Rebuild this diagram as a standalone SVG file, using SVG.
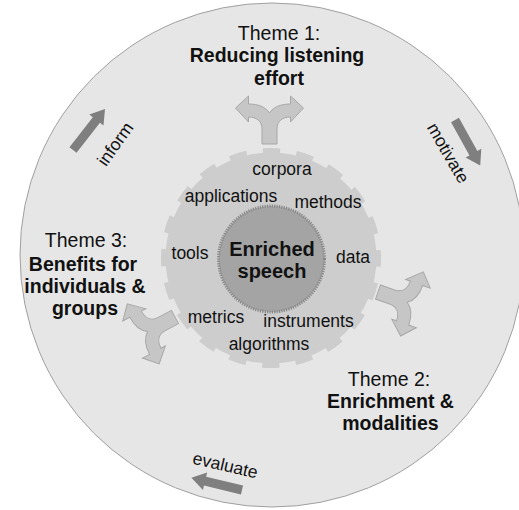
<svg xmlns="http://www.w3.org/2000/svg" width="519" height="510" viewBox="0 0 519 510">
  <style>
    text { font-family: "Liberation Sans", Arial, sans-serif; fill: #111; }
    .lbl { font-size: 17.5px; text-anchor: middle; }
    .theme { font-size: 19.5px; text-anchor: middle; }
    .bold { font-weight: bold; }
    .core { font-size: 20px; font-weight: bold; text-anchor: middle; }
    .fork { fill: #c6c6c6; stroke: #a8a8a8; stroke-width: 1; }
    .flow { fill: #7f7f7f; }
  </style>
  <defs>
    <!-- three-way branching arrow, stem at origin, pointing up -->
    <path id="forkShape" d="M-7.5,0 H7.5 V-15 C7.5,-23 13,-27 21,-27 V-22 L34,-36 L21,-48 V-40 C11,-40 4,-37 0,-31 C-4,-37 -11,-40 -21,-40 V-48 L-34,-36 L-21,-22 V-27 C-13,-27 -7.5,-23 -7.5,-15 Z"/>
    <!-- straight block arrow, tail at origin, pointing along +x -->
    <path id="flowArrow" d="M0,-4.5 H38 V-9 L52,0 L38,9 V4.5 H0 Z"/>
  </defs>

  <rect width="519" height="510" fill="#ffffff"/>

  <!-- outer cycle disc -->
  <g id="cycle">
    <circle cx="272" cy="255" r="252" fill="#e6e6e6" stroke="#a0a0a0" stroke-width="1"/>
  </g>

  <!-- gear with resource labels -->
  <g id="gear">
    <circle cx="271" cy="258" r="105.5" fill="#cdcdcd"/>
    <circle cx="271" cy="258" r="107.5" fill="none" stroke="#cdcdcd" stroke-width="5"
            stroke-dasharray="17.5 16.272" stroke-dashoffset="8.75"/>
    <text class="lbl" x="282" y="175">corpora</text>
    <text class="lbl" x="231" y="202">applications</text>
    <text class="lbl" x="328" y="208">methods</text>
    <text class="lbl" x="190" y="259">tools</text>
    <text class="lbl" x="353" y="263">data</text>
    <text class="lbl" x="216" y="323">metrics</text>
    <text class="lbl" x="308.5" y="327">instruments</text>
    <text class="lbl" x="269" y="350">algorithms</text>
  </g>

  <!-- central core -->
  <g id="core">
    <circle cx="271.5" cy="259" r="53" fill="#a4a4a4" stroke="#878787" stroke-width="3" stroke-dasharray="1.2 1.2"/>
    <text class="core" x="272" y="256">Enriched</text>
    <text class="core" x="272" y="278">speech</text>
  </g>

  <!-- themes -->
  <g id="theme1">
    <text class="theme" x="279" y="39.5">Theme 1:</text>
    <text class="theme bold" x="277" y="62">Reducing listening</text>
    <text class="theme bold" x="279" y="84.5">effort</text>
  </g>
  <g id="theme2">
    <text class="theme" x="389" y="386">Theme 2:</text>
    <text class="theme bold" x="390.5" y="408">Enrichment &amp;</text>
    <text class="theme bold" x="390.5" y="430">modalities</text>
  </g>
  <g id="theme3">
    <text class="theme" x="86" y="247">Theme 3:</text>
    <text class="theme bold" x="83" y="271">Benefits for</text>
    <text class="theme bold" x="85" y="293">individuals &amp;</text>
    <text class="theme bold" x="85" y="314.5">groups</text>
  </g>

  <!-- connectors -->
  <g id="connectors">
    <use href="#forkShape" class="fork" transform="translate(269.5,144)"/>
    <use href="#forkShape" class="fork" transform="translate(378,292) rotate(109.4)"/>
    <use href="#forkShape" class="fork" transform="translate(175,317) rotate(-118)"/>

    <use href="#flowArrow" class="flow" transform="translate(73,150) rotate(-52)"/>
    <use href="#flowArrow" class="flow" transform="translate(455,120) rotate(61)"/>
    <use href="#flowArrow" class="flow" transform="translate(242,490) rotate(193.5)"/>

    <text class="lbl" transform="translate(120,147.5) rotate(-54.5)">inform</text>
    <text class="lbl" transform="translate(443,156) rotate(60)">motivate</text>
    <text class="lbl" transform="translate(224,471) rotate(13)">evaluate</text>
  </g>
</svg>
